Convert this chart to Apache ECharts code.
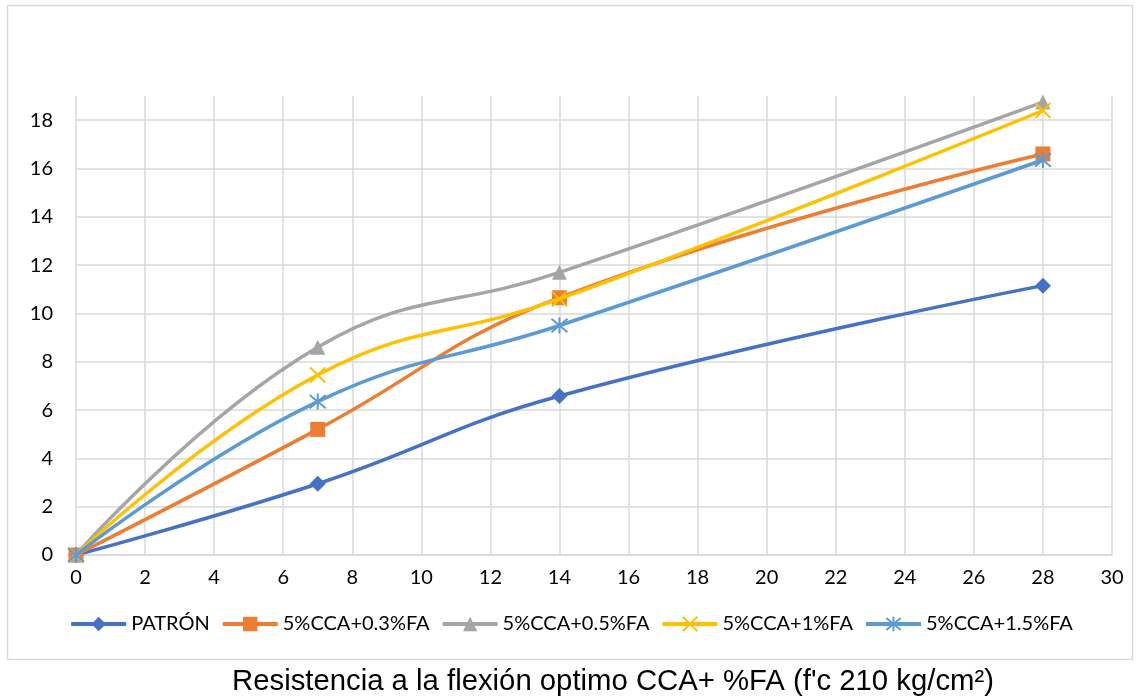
<!DOCTYPE html>
<html>
<head>
<meta charset="utf-8">
<script src="https://cdn.jsdelivr.net/npm/echarts@6/dist/echarts.min.js"></script>
<style>
  html, body { margin: 0; padding: 0; background: #fff; }
  #chart { width: 1142px; height: 698px; }
</style>
</head>
<body>
<div id="chart"></div>
<script>
// Curing age in days
const ages = [0, 7, 14, 28];

// Flexural strength per mix
const patron   = [0, 2.95, 6.58, 11.15];
const cca03fa  = [0, 5.2, 10.65, 16.6];
const cca05fa  = [0, 8.6, 11.7, 18.75];
const cca1fa   = [0, 7.45, 10.6, 18.4];
const cca15fa  = [0, 6.35, 9.5, 16.35];

const seriesNames = ['PATRÓN', '5%CCA+0.3%FA', '5%CCA+0.5%FA', '5%CCA+1%FA', '5%CCA+1.5%FA'];
const xTicks = [0, 2, 4, 6, 8, 10, 12, 14, 16, 18, 20, 22, 24, 26, 28, 30];
const yTicks = [0, 2, 4, 6, 8, 10, 12, 14, 16, 18];

const titleText = "Resistencia a la flexión optimo CCA+ %FA (f'c 210 kg/cm²)";

const colors = ['#4472C4', '#ED7D31', '#A5A5A5', '#FFC000', '#5B9BD5'];
const values = [patron, cca03fa, cca05fa, cca1fa, cca15fa];

const crossPath = 'path://M0,0L10,10M10,0L0,10';
const asteriskPath = 'path://M0,0L10,10M10,0L0,10M5,-1L5,11';

const markers = [
  { symbol: 'diamond', size: 16, filled: true },
  { symbol: 'rect', size: 15, filled: true },
  { symbol: 'triangle', size: 15, filled: true },
  { symbol: crossPath, size: 15, filled: false },
  { symbol: asteriskPath, size: 16, filled: false }
];

const series = values.map((vals, i) => {
  const m = markers[i];
  return {
    name: seriesNames[i],
    type: 'line',
    smooth: 0.45,
    data: ages.map((a, k) => [a, vals[k]]),
    symbol: m.symbol,
    symbolSize: m.size,
    showAllSymbol: true,
    lineStyle: { color: colors[i], width: 3.5 },
    itemStyle: m.filled
      ? { color: colors[i], borderColor: colors[i], borderWidth: 0 }
      : { color: 'rgba(0,0,0,0)', borderColor: colors[i], borderWidth: 2 },
    emphasis: { disabled: true },
    z: 2 + i
  };
});

const chart = echarts.init(document.getElementById('chart'), null, { renderer: 'canvas' });

chart.setOption({
  animation: false,
  backgroundColor: '#ffffff',
  grid: { left: 76, right: 30, top: 96, bottom: 143, containLabel: false },
  xAxis: {
    type: 'value',
    min: 0,
    max: 30,
    interval: 2,
    axisLine: { show: true, lineStyle: { color: '#d9d9d9', width: 1.5 } },
    axisTick: { show: false },
    axisLabel: {
      color: '#000',
      fontFamily: 'Lato, "Open Sans", sans-serif',
      fontSize: 20,
      margin: 13,
      formatter: v => (xTicks.indexOf(v) >= 0 ? String(v) : '')
    },
    splitLine: { show: true, lineStyle: { color: '#d9d9d9', width: 1.5 } }
  },
  yAxis: {
    type: 'value',
    min: 0,
    max: 19,
    interval: 2,
    axisLine: { show: false },
    axisTick: { show: false },
    axisLabel: {
      color: '#000',
      fontFamily: 'Lato, "Open Sans", sans-serif',
      fontSize: 20,
      margin: 23,
      showMaxLabel: false,
      formatter: v => (yTicks.indexOf(v) >= 0 ? String(v) : '')
    },
    splitLine: { show: true, showMaxLine: false, lineStyle: { color: '#d9d9d9', width: 1.5 } }
  },
  legend: {
    data: seriesNames,
    top: 609,
    left: 'center',
    itemWidth: 55,
    itemHeight: 18,
    itemGap: 11,
    lineStyle: { width: 4 },
    textStyle: {
      color: '#000',
      fontFamily: 'Lato, "Open Sans", sans-serif',
      fontSize: 20,
      padding: [0, 0, 0, 0]
    }
  },
  title: {
    text: titleText,
    left: 608,
    textAlign: 'center',
    top: 662,
    textStyle: {
      color: '#000',
      fontFamily: '"Liberation Sans", Arial, sans-serif',
      fontSize: 29.3,
      fontWeight: 'normal'
    }
  },
  graphic: [{
    type: 'rect',
    shape: { x: 7.5, y: 5.5, width: 1125, height: 654 },
    style: { fill: 'none', stroke: '#d9d9d9', lineWidth: 1.5 },
    silent: true,
    z: -10
  }],
  series: series
});
</script>
</body>
</html>
